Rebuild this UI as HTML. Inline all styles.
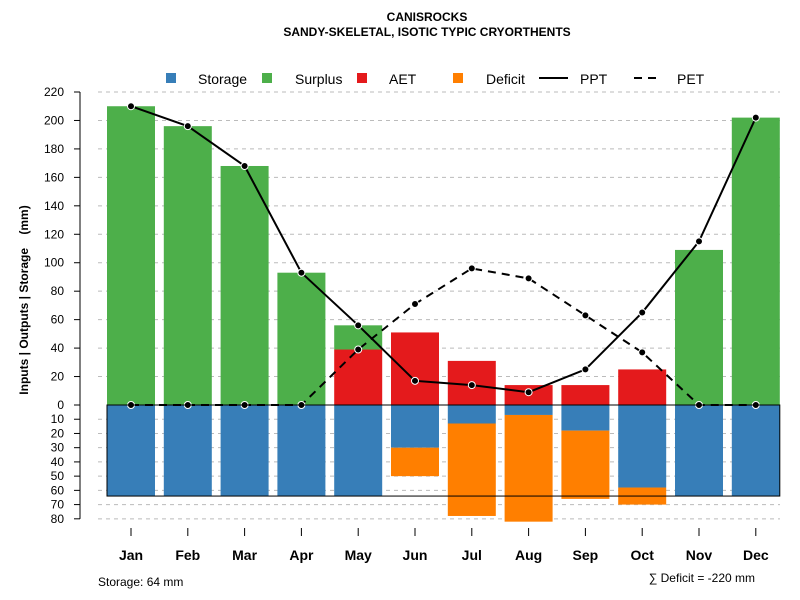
<!DOCTYPE html>
<html><head><meta charset="utf-8">
<style>
body{margin:0;background:#fff;}
svg{display:block;font-family:"Liberation Sans",sans-serif;}
</style></head>
<body>
<svg id="chart" width="800" height="600" viewBox="0 0 800 600" xmlns="http://www.w3.org/2000/svg">
<text x="427" y="21" text-anchor="middle" font-size="12" font-weight="bold">CANISROCKS</text>
<text x="427" y="36" text-anchor="middle" font-size="12" font-weight="bold">SANDY-SKELETAL, ISOTIC TYPIC CRYORTHENTS</text>
<g id="grid"></g>
<g id="bars"></g>
<g id="lines"></g>
<g id="axis"></g>
<g font-size="14">
 <rect x="166" y="73" width="10" height="10" fill="#377eb8"/>
 <text x="198" y="84">Storage</text>
 <rect x="262" y="73" width="10" height="10" fill="#4daf4a"/>
 <text x="295" y="84">Surplus</text>
 <rect x="357" y="73" width="10" height="10" fill="#e41a1c"/>
 <text x="389" y="84">AET</text>
 <rect x="453" y="73" width="10" height="10" fill="#ff7f00"/>
 <text x="486" y="84">Deficit</text>
 <line x1="539" y1="78" x2="568" y2="78" stroke="#000" stroke-width="2"/>
 <text x="580" y="84">PPT</text>
 <line x1="634" y1="78" x2="659" y2="78" stroke="#000" stroke-width="2" stroke-dasharray="8,6"/>
 <text x="677" y="84">PET</text>
</g>
<text transform="translate(28,300) rotate(-90)" text-anchor="middle" font-size="12" font-weight="bold">Inputs | Outputs | Storage&#160;&#160;&#160;&#160;(mm)</text>
<text x="98" y="586" font-size="12">Storage: 64 mm</text>
<text x="755" y="582" text-anchor="end" font-size="12">∑ Deficit = -220 mm</text>
</svg>
<script>
const months=["Jan","Feb","Mar","Apr","May","Jun","Jul","Aug","Sep","Oct","Nov","Dec"];
const surplus=[210,196,168,93,17,0,0,0,0,0,109,202];
const aet=[0,0,0,0,39,51,31,14,14,25,0,0];
const storage=[64,64,64,64,64,30,13,7,18,58,64,64];
const deficit=[0,0,0,0,0,20,65,75,48,12,0,0];
const ppt=[210,196,168,93,56,17,14,9,25,65,115,202];
const pet=[0,0,0,0,39,71,96,89,63,37,0,0];
const maxStorage=64;
const upTicks=[0,20,40,60,80,100,120,140,160,180,200,220];
const downTicks=[10,20,30,40,50,60,70,80];

const NS="http://www.w3.org/2000/svg";
const y0=405, k=1.4227;
const y=v=>y0-v*k;
const x=i=>131+i*56.8;
const bw=48;
function mk(parent,tag,attrs){const e=document.createElementNS(NS,tag);for(const a in attrs)e.setAttribute(a,attrs[a]);document.getElementById(parent).appendChild(e);return e;}

upTicks.forEach(t=>{if(t>0){const l=mk('grid','line',{x1:98,x2:780,y1:y(t),y2:y(t),stroke:'#bbb','stroke-dasharray':'4,4'});

}});
downTicks.forEach(t=>{const l=mk('grid','line',{x1:98,x2:780,y1:y(-t),y2:y(-t),stroke:'#bbb','stroke-dasharray':'4,4'});

});

months.forEach((m,i)=>{
 const cx=x(i)-bw/2;
 if(aet[i]>0){const r=mk('bars','rect',{x:cx,y:y(aet[i]),width:bw,height:aet[i]*k,fill:'#e41a1c'});
 
 }
 if(surplus[i]>0){const r=mk('bars','rect',{x:cx,y:y(aet[i]+surplus[i]),width:bw,height:surplus[i]*k,fill:'#4daf4a'});
 
 }
 const s=mk('bars','rect',{x:cx,y:y0,width:bw,height:storage[i]*k,fill:'#377eb8'});
 
 
 if(deficit[i]>0){const r=mk('bars','rect',{x:cx,y:y(-storage[i]),width:bw,height:deficit[i]*k,fill:'#ff7f00'});
 
 }
});
const box=mk('bars','rect',{x:x(0)-bw/2,y:y0,width:x(11)+bw/2-(x(0)-bw/2),height:maxStorage*k,fill:'none',stroke:'#000','stroke-width':1});



function series(vals,dash,name){
 const p=mk('lines','polyline',{points:vals.map((v,i)=>x(i)+','+y(v)).join(' '),fill:'none',stroke:'#000','stroke-width':2});
 if(dash)p.setAttribute('stroke-dasharray','8,6');
 
 
 vals.forEach((v,i)=>{const c=mk('lines','circle',{cx:x(i),cy:y(v),r:3.5,fill:'#000',stroke:'#fff','stroke-width':1});
 
 });
}
series(pet,true,'pet');
series(ppt,false,'ppt');

const ax=mk('axis','line',{x1:80,x2:80,y1:y(220),y2:y(-80),stroke:'#000'});


upTicks.forEach(t=>{mk('axis','line',{x1:74,x2:80,y1:y(t),y2:y(t),stroke:'#000'});
 const tx=mk('axis','text',{x:64,y:y(t)+4,'text-anchor':'end','font-size':12});tx.textContent=t;
 
 });
downTicks.forEach(t=>{mk('axis','line',{x1:74,x2:80,y1:y(-t),y2:y(-t),stroke:'#000'});
 const tx=mk('axis','text',{x:64,y:y(-t)+4,'text-anchor':'end','font-size':12});tx.textContent=t;
 
 });
const zl=mk('axis','line',{x1:x(0)-bw/2,x2:x(11)+bw/2,y1:y0,y2:y0,stroke:'#000'});


months.forEach((m,i)=>{mk('axis','line',{x1:x(i),x2:x(i),y1:528,y2:536,stroke:'#000'});
 const tx=mk('axis','text',{x:x(i),y:560,'text-anchor':'middle','font-size':14,'font-weight':'bold'});tx.textContent=m;
 
 });
</script>
</body></html>
